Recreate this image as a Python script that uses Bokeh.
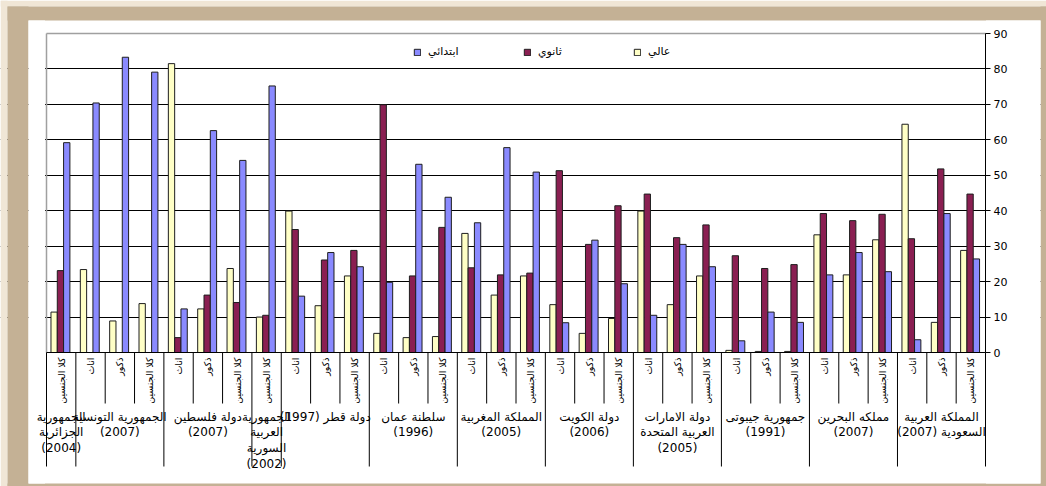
import math

from bokeh.core.properties import value
from bokeh.embed import file_html
from bokeh.models import ColumnDataSource, FixedTicker, Legend, LegendItem, Range1d
from bokeh.plotting import figure
from bokeh.resources import INLINE
from bokeh.transform import dodge

NAN = float("nan")

# ---------------------------------------------------------------- data
countries = [
    "الجمهورية\nالجزائرية\n(2004)",
    "الجمهورية التونسية\n(2007)",
    "دولة فلسطين\n(2007)",
    "الجمهورية\nالعربية\nالسورية\n(2002)",
    "دولة قطر (1997)",
    "سلطنة عمان\n(1996)",
    "المملكة المغربية\n(2005)",
    "دولة الكويت\n(2006)",
    "دولة الامارات\nالعربية المتحدة\n(2005)",
    "جمهورية جيبوتى\n(1991)",
    "مملكه البحرين\n(2007)",
    "المملكة العربية\nالسعودية (2007)",
]

FEMALE, MALE, BOTH = "اناث", "ذكور", "كلا الجنسين"
country_groups = [
    [BOTH],
    [FEMALE, MALE, BOTH],
    [FEMALE, MALE, BOTH],
    [BOTH],
    [FEMALE, MALE, BOTH],
    [FEMALE, MALE, BOTH],
    [FEMALE, MALE, BOTH],
    [FEMALE, MALE, BOTH],
    [FEMALE, MALE, BOTH],
    [FEMALE, MALE, BOTH],
    [FEMALE, MALE, BOTH],
    [FEMALE, MALE, BOTH],
]

series_names = ["ابتدائي", "ثانوي", "عالي"]

primary = [59.2, 70.4, 83.3, 79.1, 12.3, 62.6, 54.2, 75.2, 15.9, 28.2, 24.2,
           19.8, 53.1, 43.8, 36.6, 57.8, 50.9, 8.4, 31.7, 19.4, 10.5, 30.5,
           24.2, 3.3, 11.4, 8.5, 21.9, 28.2, 22.8, 3.6, 39.2, 26.4]
secondary = [23.1, NAN, NAN, NAN, 4.2, 16.2, 14.1, 10.5, 34.7, 26.1, 28.8,
             69.9, 21.6, 35.3, 23.9, 21.9, 22.4, 51.3, 30.5, 41.4, 44.7, 32.4,
             36.0, 27.3, 23.7, 24.8, 39.2, 37.2, 39.0, 32.1, 51.8, 44.7]
higher = [11.4, 23.4, 8.9, 13.8, 81.5, 12.3, 23.7, 10.0, 39.9, 13.2, 21.6,
          5.4, 4.2, 4.5, 33.6, 16.2, 21.6, 13.5, 5.4, 9.6, 39.9, 13.5,
          21.6, 0.6, 0.3, 0.3, 33.2, 21.9, 31.8, 64.4, 8.5, 28.8]

y_ticks = [0, 10, 20, 30, 40, 50, 60, 70, 80, 90]

# ---------------------------------------------------------------- layout (pixels)
W, H = 1046, 486
PLOT_L, PLOT_R = 46, 985          # left / right edge of the category band
Y0_PX, YTOP_PX = 352, 33          # pixel rows of 0 and 90

n_cat = sum(len(g) for g in country_groups)
ppx = (PLOT_R - PLOT_L) / n_cat
ppy = (Y0_PX - YTOP_PX) / y_ticks[-1]


def px_x(px):
    return -0.5 + (px - PLOT_L) / ppx


def px_y(py):
    return (Y0_PX - py) / ppy


BLUE, MAROON, YELLOW = "#8a8aff", "#8a1f52", "#ffffc6"
EDGE = "#1e1e1e"
CREAM, TAN = "#f0e6d6", "#c4b195"
FONT = "DejaVu Sans"

# the frame covers the whole canvas; the value axis sits at a fixed spot inside it
p = figure(
    width=W, height=H,
    x_range=Range1d(px_x(0), px_x(W)),
    y_range=Range1d(px_y(H), px_y(0)),
    x_axis_type=None, y_axis_location="right",
    toolbar_location=None, output_backend="svg",
    min_border=0,
    background_fill_color="white", border_fill_color="white",
    outline_line_color=None,
)

# page frame around the white chart area, and white margins that hide grid ends
bg = [
    (0, 7, 0, H, CREAM), (0, W, 0, 6, CREAM),
    (7, 28, 6, H, TAN), (7, W, 6, 20, TAN),
    (1040, W, 6, H, TAN), (7, W, 483, H, TAN),
    (28, 44.5, 20, 483, "white"), (985.5, 1040, 20, 483, "white"),
]
p.quad(left=[px_x(b[0]) for b in bg], right=[px_x(b[1]) for b in bg],
       top=[px_y(b[2]) for b in bg], bottom=[px_y(b[3]) for b in bg],
       fill_color=[b[4] for b in bg], line_color=None)

# y axis & grid
ax = p.yaxis[0]
ax.fixed_location = n_cat - 0.5
ax.ticker = FixedTicker(ticks=y_ticks)
ax.bounds = (y_ticks[0], y_ticks[-1])
ax.axis_line_color = "black"
ax.major_tick_line_color = "black"
ax.major_tick_out = 5
ax.major_tick_in = 0
ax.minor_tick_line_color = None
ax.major_label_standoff = 3
ax.major_label_text_font = FONT
ax.major_label_text_font_size = "11px"
ax.major_label_text_color = "black"

p.xgrid.visible = False
p.ygrid.ticker = FixedTicker(ticks=y_ticks[1:-1])
p.ygrid.grid_line_color = "black"
p.ygrid.grid_line_width = 1

# plot-area border (grey top and left)
p.segment(x0=[-0.5, -0.5], y0=[0, y_ticks[-1]], x1=[-0.5, n_cat - 0.5], y1=[y_ticks[-1], y_ticks[-1]],
          line_color="#a0a0a0", line_width=1.5)

# bars
idx = list(range(n_cat))
src = ColumnDataSource(dict(x=idx, primary=primary, secondary=secondary, higher=higher))
bw = 0.215
r_high = p.vbar(x=dodge("x", -0.24, range=p.x_range), top="higher", width=bw, source=src,
                fill_color=YELLOW, line_color=EDGE, line_width=1)
r_sec = p.vbar(x=dodge("x", -0.025, range=p.x_range), top="secondary", width=bw, source=src,
               fill_color=MAROON, line_color=EDGE, line_width=1)
r_pri = p.vbar(x=dodge("x", 0.19, range=p.x_range), top="primary", width=bw, source=src,
               fill_color=BLUE, line_color=EDGE, line_width=1)

# zero line
p.segment(x0=[-0.5], y0=[0], x1=[n_cat - 0.5], y1=[0], line_color="black", line_width=1)

# category separators: short between sub-columns, long between countries
edges = [0]
for g in country_groups:
    edges.append(edges[-1] + len(g))
short_x = [i - 0.5 for i in range(1, n_cat) if i not in edges]
long_x = [e - 0.5 for e in edges]
p.segment(x0=short_x, y0=[0] * len(short_x), x1=short_x, y1=[px_y(403)] * len(short_x),
          line_color="black", line_width=1)
p.segment(x0=long_x, y0=[0] * len(long_x), x1=long_x, y1=[px_y(466)] * len(long_x),
          line_color="black", line_width=1)

# sub-column labels (rotated)
sub_labels = [s for g in country_groups for s in g]
p.text(x=idx, y=[px_y(357)] * n_cat, text=sub_labels, angle=math.pi / 2,
       text_align="right", text_baseline="middle",
       text_font=value(FONT), text_font_size="9.5px", text_color="black")

# country labels
centers = [(edges[i] + edges[i + 1]) / 2 - 0.5 for i in range(len(countries))]
p.text(x=centers, y=[px_y(409)] * len(countries), text=countries,
       text_align="center", text_baseline="top", text_line_height=1.12,
       text_font=value(FONT), text_font_size="12px", text_color="black")

# legend
legend = Legend(
    items=[LegendItem(label=series_names[0], renderers=[r_pri]),
           LegendItem(label=series_names[1], renderers=[r_sec]),
           LegendItem(label=series_names[2], renderers=[r_high])],
    orientation="horizontal",
    location=(413, H - 58),
    glyph_width=8, glyph_height=8, label_standoff=7, label_width=95, label_height=8,
    spacing=0, padding=0, margin=0,
    border_line_color=None, background_fill_alpha=0,
    label_text_font=FONT, label_text_font_size="11px", label_text_color="black",
)
p.add_layout(legend)

open("out.html", "w").write(file_html(p, INLINE))
